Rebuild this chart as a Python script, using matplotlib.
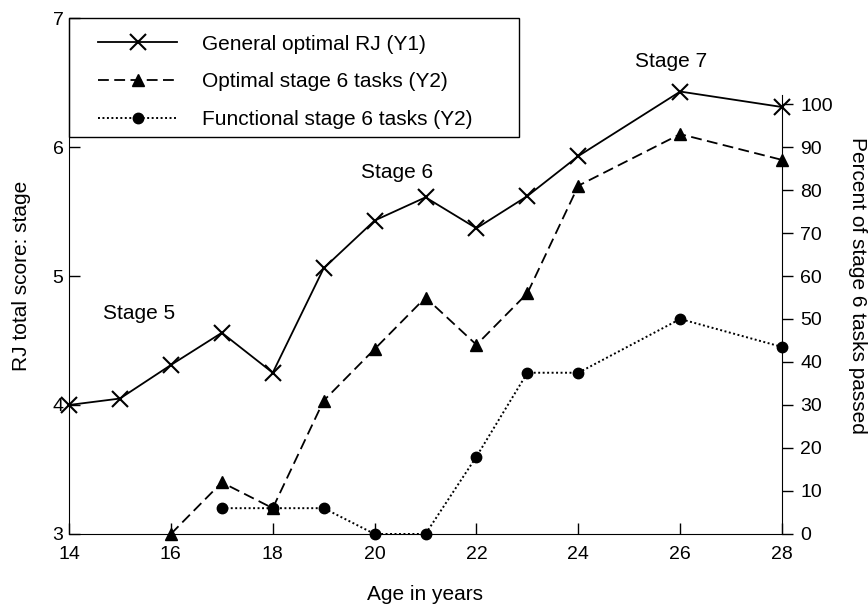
import matplotlib
matplotlib.use("Agg")
import matplotlib.pyplot as plt
from matplotlib.patches import Rectangle

plt.rcParams['font.family'] = ['Liberation Sans', 'DejaVu Sans']
plt.rcParams['font.size'] = 15

# --- Dados ---
ages_general = [14, 15, 16, 17, 18, 19, 20, 21, 22, 23, 24, 26, 28]
general_rj = [4.0, 4.05, 4.31, 4.56, 4.25, 5.06, 5.43, 5.61, 5.37, 5.62, 5.93, 6.43, 6.31]

ages_optimal = [16, 17, 18, 19, 20, 21, 22, 23, 24, 26, 28]
optimal_pct = [0, 12, 6, 31, 43, 55, 44, 56, 81, 93, 87]

ages_functional = [17, 18, 19, 20, 21, 22, 23, 24, 26, 28]
functional_pct = [6, 6, 6, 0, 0, 18, 37.5, 37.5, 50, 43.5]

x_ticks = [14, 16, 18, 20, 22, 24, 26, 28]
y1_ticks = [3, 4, 5, 6, 7]
y2_ticks = list(range(0, 101, 10))

labels = ["General optimal RJ (Y1)", "Optimal stage 6 tasks (Y2)",
          "Functional stage 6 tasks (Y2)"]

# --- Figura ---
fig = plt.figure(figsize=(8.68, 6.07), dpi=100)
ax = fig.add_axes([0.0795, 0.1203, 0.8215, 0.85])
ax2 = ax.twinx()

l1, = ax.plot(ages_general, general_rj, color="black", lw=1.3, marker="x",
              ms=12, mew=1.5, clip_on=False, zorder=3)
l2, = ax2.plot(ages_optimal, optimal_pct, color="black", lw=1.3,
               linestyle=(0, (6, 3)), marker="^", ms=9, clip_on=False, zorder=3)
l3, = ax2.plot(ages_functional, functional_pct, color="black", lw=1.4,
               linestyle=(0, (1, 1.3)), marker="o", ms=7.5, clip_on=False, zorder=3)

ax.set_xlim(14, 28)
ax.set_ylim(3, 7)
ax2.set_ylim(0, 120)
ax.set_xticks(x_ticks)
ax.set_yticks(y1_ticks)
ax2.set_yticks(y2_ticks)

for a in (ax, ax2):
    a.spines['top'].set_visible(False)
ax.spines['right'].set_visible(False)
ax2.spines['left'].set_visible(False)
ax2.spines['bottom'].set_visible(False)
ax2.spines['right'].set_bounds(0, 102)

ax.tick_params(axis='x', direction='in', length=8, width=1, pad=9, labelsize=14)
ax.tick_params(axis='y', direction='in', length=8, width=1, pad=4, labelsize=14)
ax2.tick_params(axis='y', direction='out', length=8, width=1, pad=5, labelsize=14)

# Anotações
ax.text(15.37, 4.71, "Stage 5", ha="center", va="center")
ax.text(20.45, 5.80, "Stage 6", ha="center", va="center")
ax.text(25.82, 6.66, "Stage 7", ha="center", va="center")

# Rótulos dos eixos
fig.text(425 / 868, 1 - 595 / 607, "Age in years", ha="center", va="center")
fig.text(22 / 868, 1 - 276 / 607, "RJ total score: stage", rotation=90,
         ha="center", va="center")
fig.text(858 / 868, 1 - 285 / 607, "Percent of stage 6 tasks passed",
         rotation=270, ha="center", va="center")

# Legenda com moldura manual
ax2.add_patch(Rectangle((0, 1 - 0.2306), 0.631, 0.2306, transform=ax2.transAxes,
                        fill=False, edgecolor="black", lw=1, clip_on=False,
                        zorder=5))
ax2.legend([l1, l2, l3], labels, loc="upper left",
           bbox_to_anchor=(0.0407, 0.968), bbox_transform=ax2.transAxes,
           frameon=False, borderpad=0, borderaxespad=0, handlelength=3.8,
           handletextpad=1.2, labelspacing=0.9)

fig.savefig("out.png", dpi=100)
plt.close()
